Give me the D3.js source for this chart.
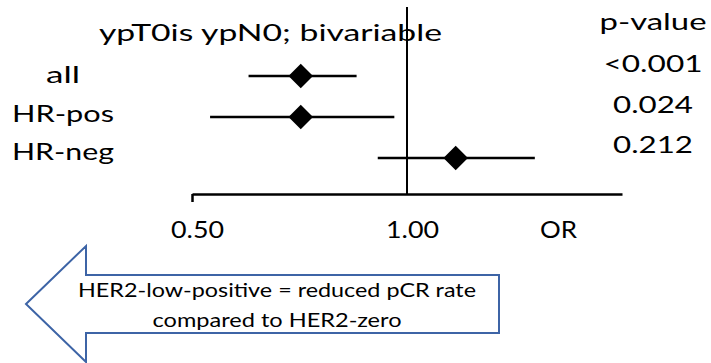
<!DOCTYPE html>
<html>
<head>
<meta charset="utf-8">
<style>
  html, body { margin: 0; padding: 0; background: #fff; }
  text { font-family: Lato, "Open Sans", sans-serif; fill: #000; }
</style>
</head>
<body>
<svg id="chart" width="711" height="363"></svg>

<script src="https://d3js.org/d3.v7.min.js"></script>
<script>
  // data
  var groups = ["all", "HR-pos", "HR-neg"];
  var oddsRatio = [0.71, 0.71, 1.17];
  var ciLow = [0.60, 0.53, 0.91];
  var ciHigh = [0.85, 0.96, 1.51];
  var pValues = ["<0.001", "0.024", "0.212"];
  var tickValues = [0.5, 1];
  var tickLabels = ["0.50", "1.00"];

  var rows = groups.map(function (g, i) {
    return { group: g, or: oddsRatio[i], lo: ciLow[i], hi: ciHigh[i], p: pValues[i] };
  });

  var svg = d3.select("#chart");
  var blue = "#3d64a6";

  // log scale, 0.5 .. 2 with 1 in the middle
  var x = d3.scaleLog().base(2).domain([0.5, 2]).range([192, 622]);
  var y = d3.scalePoint().domain(groups).range([76, 158]);
  var axisY = 194;

  // widths of the (stretched) text in the picture
  var labelWidth = { "all": 34, "HR-pos": 102, "HR-neg": 102 };
  var pWidth = { "<0.001": 99, "0.024": 80, "0.212": 80 };

  // title
  svg.append("text")
    .attr("x", 99).attr("y", 41)
    .attr("font-size", 24)
    .attr("textLength", 343).attr("lengthAdjust", "spacingAndGlyphs")
    .text("ypT0is ypN0; bivariable");

  // reference line at OR = 1
  svg.append("line")
    .attr("x1", x(1)).attr("x2", x(1))
    .attr("y1", 7).attr("y2", axisY)
    .attr("stroke", "#000").attr("stroke-width", 2);

  // x axis
  var axis = d3.axisBottom(x)
    .tickValues(tickValues)
    .tickSize(0)
    .tickSizeOuter(0)
    .tickFormat(function (d, i) { return tickLabels[i]; });

  var gx = svg.append("g")
    .attr("transform", "translate(0," + axisY + ")")
    .call(axis);
  gx.select(".domain").attr("stroke", "#000").attr("stroke-width", 2.5);
  gx.selectAll(".tick line")
    .attr("stroke", "#000").attr("stroke-width", 2.5)
    .attr("y2", function (d) { return d === 0.5 ? 8 : 0; });
  gx.selectAll(".tick text")
    .attr("x", 5).attr("y", 44).attr("dy", 0)
    .attr("font-size", 24)
    .attr("font-family", "Lato, 'Open Sans', sans-serif")
    .attr("fill", "#000")
    .attr("textLength", 53).attr("lengthAdjust", "spacingAndGlyphs");

  svg.append("text")
    .attr("x", 540).attr("y", 238)
    .attr("font-size", 24)
    .attr("textLength", 37).attr("lengthAdjust", "spacingAndGlyphs")
    .text("OR");

  // confidence intervals
  svg.selectAll(".ci")
    .data(rows)
    .enter()
    .append("line")
    .attr("class", "ci")
    .attr("x1", function (d) { return x(d.lo); })
    .attr("x2", function (d) { return x(d.hi); })
    .attr("y1", function (d) { return y(d.group); })
    .attr("y2", function (d) { return y(d.group); })
    .attr("stroke", "#000").attr("stroke-width", 2.5);

  // point estimates (square turned 45 degrees)
  svg.selectAll(".pt")
    .data(rows)
    .enter()
    .append("path")
    .attr("class", "pt")
    .attr("d", d3.symbol().type(d3.symbolSquare).size(300))
    .attr("transform", function (d) {
      return "translate(" + x(d.or) + "," + y(d.group) + ") rotate(45)";
    })
    .attr("fill", "#000");

  // group labels
  var yLab = d3.scalePoint().domain(groups).range([83, 160]);
  svg.selectAll(".lab")
    .data(rows)
    .enter()
    .append("text")
    .attr("class", "lab")
    .attr("x", 63)
    .attr("y", function (d) { return yLab(d.group); })
    .attr("text-anchor", "middle")
    .attr("font-size", 24)
    .attr("textLength", function (d) { return labelWidth[d.group]; })
    .attr("lengthAdjust", "spacingAndGlyphs")
    .text(function (d) { return d.group; });

  // p-values
  svg.append("text")
    .attr("x", 653).attr("y", 30)
    .attr("text-anchor", "middle")
    .attr("font-size", 24)
    .attr("textLength", 107).attr("lengthAdjust", "spacingAndGlyphs")
    .text("p-value");

  var yP = d3.scalePoint().domain(groups).range([72, 153]);
  svg.selectAll(".pv")
    .data(rows)
    .enter()
    .append("text")
    .attr("class", "pv")
    .attr("x", 653)
    .attr("y", function (d) { return yP(d.group); })
    .attr("text-anchor", "middle")
    .attr("font-size", 24)
    .attr("textLength", function (d) { return pWidth[d.p]; })
    .attr("lengthAdjust", "spacingAndGlyphs")
    .text(function (d) { return d.p; });

  // left arrow with explanation
  var arrow = d3.path();
  arrow.moveTo(26, 304);
  arrow.lineTo(86, 246);
  arrow.lineTo(86, 275);
  arrow.lineTo(499, 275);
  arrow.lineTo(499, 333);
  arrow.lineTo(86, 333);
  arrow.lineTo(86, 362);
  arrow.closePath();

  svg.append("path")
    .attr("d", arrow.toString())
    .attr("fill", "#fff")
    .attr("stroke", blue)
    .attr("stroke-width", 2);

  svg.append("text")
    .attr("x", 277).attr("y", 297)
    .attr("text-anchor", "middle")
    .attr("font-size", 20)
    .attr("textLength", 398).attr("lengthAdjust", "spacingAndGlyphs")
    .text("HER2-low-positive = reduced pCR rate");

  svg.append("text")
    .attr("x", 277).attr("y", 327)
    .attr("text-anchor", "middle")
    .attr("font-size", 20)
    .attr("textLength", 249).attr("lengthAdjust", "spacingAndGlyphs")
    .text("compared to HER2-zero");
</script>
</body>
</html>
